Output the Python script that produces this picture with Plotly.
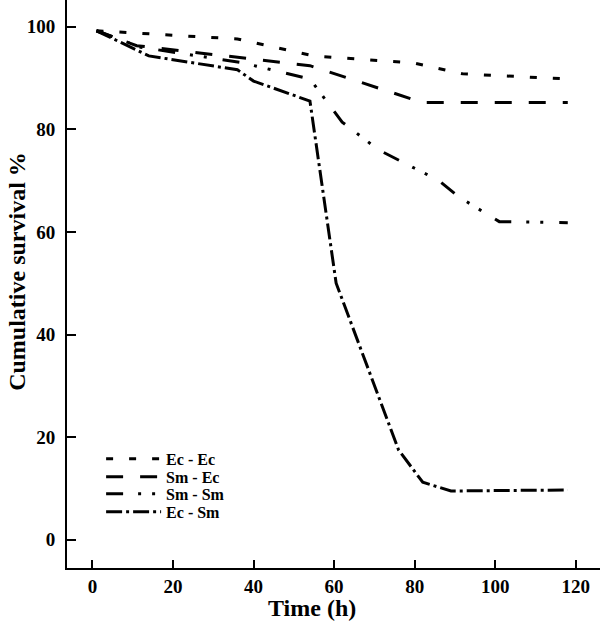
import plotly.graph_objects as go

# survival curves (time in h, cumulative survival %)
ec_ec_t = [1, 36, 55, 80, 92, 118]
ec_ec_s = [99.2, 97.6, 94.3, 92.9, 90.8, 89.8]

sm_ec_t = [1, 11, 54, 82, 118]
sm_ec_s = [99.2, 96.3, 92.4, 85.2, 85.2]

sm_sm_t = [1, 12, 37, 54, 62, 71, 80, 86, 91, 101, 118]
sm_sm_s = [99.2, 96.0, 93.0, 89.8, 81.4, 76.0, 72.4, 70.0, 66.8, 62.0, 61.8]

ec_sm_t = [1, 14, 36, 40, 54, 60.5, 76, 82, 89, 118]
ec_sm_s = [99.2, 94.3, 91.6, 89.4, 85.5, 50.0, 17.5, 11.2, 9.5, 9.7]

names = ["Ec - Ec", "Sm - Ec", "Sm - Sm", "Ec - Sm"]
xticks = [0, 20, 40, 60, 80, 100, 120]
yticks = [0, 20, 40, 60, 80, 100]

FONT = "Liberation Serif"

series = [
    (ec_ec_t, ec_ec_s, "7px,16px"),
    (sm_ec_t, sm_ec_s, "17px,17px"),
    (sm_sm_t, sm_sm_s, "17px,15px,3px,11px,3px,16px"),
    (ec_sm_t, ec_sm_s, "16px,4px,3px,4px"),
]

fig = go.Figure()
legend_ids = ["legend", "legend2", "legend3", "legend4"]
for i, (t, s, dash) in enumerate(series):
    fig.add_trace(go.Scatter(
        x=t, y=s, mode="lines", name=names[i],
        line=dict(color="black", width=3, dash=dash),
        legend=legend_ids[i],
    ))

# one legend per row so the rows sit tight like the original
row_y = [459, 477, 494, 512]
plot_h = 568.3
legends = {}
for i, lid in enumerate(legend_ids):
    legends[lid] = dict(
        x=0.064, y=(plot_h - row_y[i]) / plot_h,
        xanchor="left", yanchor="middle",
        bgcolor="rgba(0,0,0,0)", borderwidth=0,
        itemwidth=55,
        font=dict(family=FONT, size=16, color="black", weight="bold"),
    )

fig.update_layout(
    width=600, height=626,
    margin=dict(l=67, r=0, t=0, b=58),
    plot_bgcolor="white", paper_bgcolor="white",
    showlegend=True,
    **legends,
    xaxis=dict(
        range=[-6.31, 126.0], tickvals=xticks, automargin=False,
        showline=True, linecolor="black", linewidth=2,
        ticks="inside", ticklen=8, tickwidth=1.5, tickcolor="black",
        showgrid=False, zeroline=False,
        tickfont=dict(family=FONT, size=19, color="black", weight="bold"),
    ),
    yaxis=dict(
        range=[-5.51, 105.2], tickvals=yticks, automargin=False,
        showline=True, linecolor="black", linewidth=2,
        ticks="inside", ticklen=9, tickwidth=1.5, tickcolor="black",
        showgrid=False, zeroline=False, ticklabelstandoff=6,
        tickfont=dict(family=FONT, size=19, color="black", weight="bold"),
    ),
    annotations=[
        dict(text="Time (h)", xref="paper", yref="paper",
             x=0.459, y=-0.0699, xanchor="center", yanchor="middle",
             showarrow=False,
             font=dict(family=FONT, size=24, color="black", weight="bold")),
        dict(text="Cumulative survival %", xref="paper", yref="paper",
             x=-0.094, y=0.523, xanchor="center", yanchor="middle",
             textangle=-90, showarrow=False,
             font=dict(family=FONT, size=24, color="black", weight="bold")),
    ],
)

# page body has a default 8px margin; drop it so the figure sits at 0,0
fig.write_html("out.html", config={"displayModeBar": False},
               post_script="document.body.style.margin='0px';")
